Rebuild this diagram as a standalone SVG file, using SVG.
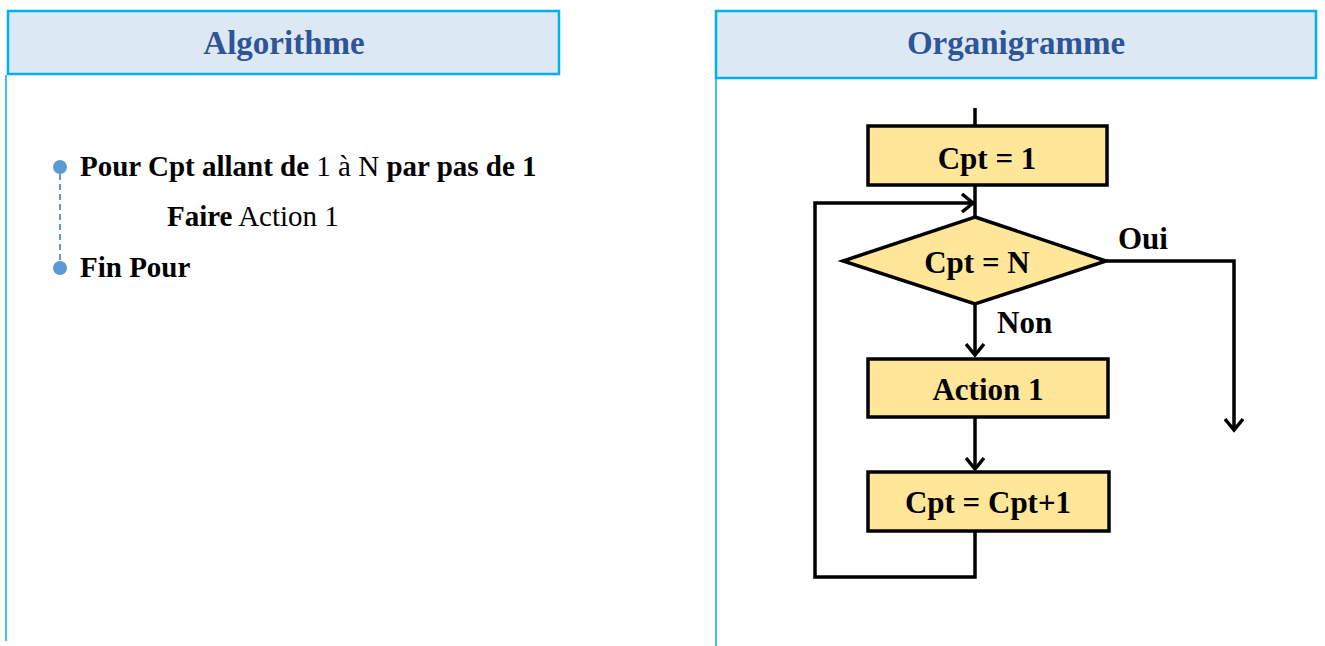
<svg xmlns="http://www.w3.org/2000/svg" width="1325" height="646" viewBox="0 0 1325 646">
<style>
.hdr{fill:#dde8f5;stroke:#00b0f0;stroke-width:2.5}
.side{stroke:#00b0f0;stroke-width:1.5;fill:none}
.htxt{font-family:"Liberation Serif",serif;font-weight:bold;font-size:33px;fill:#2f5597;text-anchor:middle}
.alg{font-family:"Liberation Serif",serif;font-size:29px;fill:#000}
.b{font-weight:bold}
.box{fill:#ffe699;stroke:#000;stroke-width:3.5}
.ftxt{font-family:"Liberation Serif",serif;font-weight:bold;font-size:31px;fill:#000;text-anchor:middle}
.lbl{font-family:"Liberation Serif",serif;font-weight:bold;font-size:31px;fill:#000}
.con{stroke:#000;stroke-width:3.5;fill:none}
.bul{fill:#5b9bd5}
</style>
<defs>
<marker id="arr" markerWidth="20" markerHeight="20" viewBox="-12 -10 14 20" refX="0" refY="0" orient="auto" markerUnits="userSpaceOnUse">
<path d="M-11,-9 L0,0 L-11,9" fill="none" stroke="#000" stroke-width="3.5"/>
</marker>
</defs>

<g id="panel-algo">
<line class="side" x1="6" y1="75" x2="6" y2="641"/>
<rect class="hdr" x="8" y="11" width="551" height="63"/>
<text class="htxt" x="284" y="54">Algorithme</text>
</g>

<g id="algo-text">
<line x1="60" y1="174" x2="60" y2="262" stroke="#5b9bd5" stroke-width="2" stroke-dasharray="6,4"/>
<circle class="bul" cx="60" cy="167" r="7"/>
<circle class="bul" cx="60" cy="268" r="7"/>
<text class="alg" x="80" y="176"><tspan class="b">Pour Cpt allant de</tspan> 1 à N <tspan class="b">par pas de 1</tspan></text>
<text class="alg" x="167" y="226"><tspan class="b">Faire</tspan> Action 1</text>
<text class="alg b" x="80" y="277">Fin Pour</text>
</g>

<g id="panel-org">
<line class="side" x1="716" y1="78" x2="716" y2="646"/>
<rect class="hdr" x="716" y="11" width="600" height="67"/>
<text class="htxt" x="1016" y="54">Organigramme</text>
</g>

<g id="connectors">
<line class="con" x1="975" y1="108" x2="975" y2="126"/>
<line class="con" x1="975" y1="185" x2="975" y2="217"/>
<polyline class="con" points="975,531 975,577 815,577 815,203 973,203" marker-end="url(#arr)"/>
<polyline class="con" points="1106,261 1234,261 1234,430" marker-end="url(#arr)"/>
<line class="con" x1="975" y1="304" x2="975" y2="355" marker-end="url(#arr)"/>
<line class="con" x1="975" y1="417" x2="975" y2="469" marker-end="url(#arr)"/>
<text class="lbl" x="1118" y="249">Oui</text>
<text class="lbl" x="997" y="333">Non</text>
</g>

<g id="n-init">
<rect class="box" x="868" y="126" width="239" height="59"/>
<text class="ftxt" x="987" y="169">Cpt = 1</text>
</g>
<g id="n-test">
<polygon class="box" points="975,217 1106,261 975,304 843,261"/>
<text class="ftxt" x="977" y="273">Cpt = N</text>
</g>
<g id="n-action">
<rect class="box" x="868" y="359" width="240" height="58"/>
<text class="ftxt" x="988" y="400">Action 1</text>
</g>
<g id="n-incr">
<rect class="box" x="868" y="472" width="241" height="59"/>
<text class="ftxt" x="988" y="513">Cpt = Cpt+1</text>
</g>
</svg>
